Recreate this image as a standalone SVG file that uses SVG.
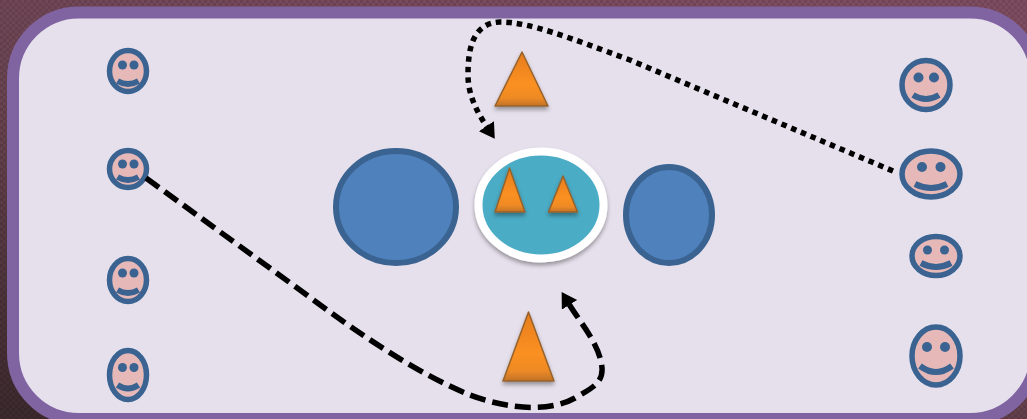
<svg xmlns="http://www.w3.org/2000/svg" width="1027" height="419" viewBox="0 0 1027 419">
<style>
.skin{fill:#e6b9b8;stroke:#3a6391;stroke-width:5.500}
.eye{fill:#3a6391}
.mouth{fill:none;stroke:#3a6391;stroke-width:6}
.blue{fill:#4f81bd;stroke:#3a6391;stroke-width:6}
.tri{fill:url(#orange);stroke:#96622c;stroke-width:1.500;stroke-linejoin:round;filter:url(#shadow)}
.conn{fill:none;stroke:#000;stroke-width:5.500}
</style>
<defs>
<linearGradient id="bg" x1="0.7" y1="0" x2="0.05" y2="1"><stop offset="0" stop-color="#7e4c60"/><stop offset="0.5" stop-color="#684350"/><stop offset="1" stop-color="#3d2a2e"/></linearGradient>
<pattern id="tex" width="6" height="6" patternUnits="userSpaceOnUse"><rect width="3" height="3" fill="#000" opacity="0.1"/><rect x="3" y="3" width="3" height="3" fill="#000" opacity="0.1"/></pattern>
<linearGradient id="orange" x1="0" y1="0" x2="0" y2="1"><stop offset="0" stop-color="#e67d1f"/><stop offset="0.6" stop-color="#fb9020"/><stop offset="0.85" stop-color="#ee8a25"/><stop offset="1" stop-color="#c07228"/></linearGradient>
<filter id="shadow" x="-30%" y="-20%" width="160%" height="150%"><feDropShadow dx="0" dy="3" stdDeviation="2" flood-color="#000" flood-opacity="0.35"/></filter>
<marker id="arrow" markerUnits="userSpaceOnUse" markerWidth="20" markerHeight="20" refX="1" refY="9" orient="auto"><path d="M0,0L15,9L0,18z" fill="#000"/></marker>
</defs>
<rect width="1027" height="419" fill="url(#bg)"/>
<rect width="1027" height="419" fill="url(#tex)"/>
<rect id="panel" x="13" y="12.500" width="1023" height="406.500" rx="66" ry="66" fill="#e6e0ec" stroke="#8064a2" stroke-width="12"/>
<g id="face-l1"><ellipse class="skin" cx="128" cy="71" rx="18.500" ry="20.500"/><circle class="eye" cx="122.500" cy="65" r="4.500"/><circle class="eye" cx="134" cy="65" r="4.500"/><path class="mouth" d="M117.500,81Q128,87 138.500,81"/></g>
<g id="face-l2"><ellipse class="skin" cx="128" cy="169" rx="18.500" ry="18.500"/><circle class="eye" cx="122.500" cy="164" r="4.500"/><circle class="eye" cx="134" cy="164" r="4.500"/><path class="mouth" d="M117.500,177Q128,183 138.500,177"/></g>
<g id="face-l3"><ellipse class="skin" cx="128" cy="280" rx="18.500" ry="21.500"/><circle class="eye" cx="122.500" cy="273" r="4.500"/><circle class="eye" cx="134" cy="273" r="4.500"/><path class="mouth" d="M117.500,290Q128,296 138.500,290"/></g>
<g id="face-l4"><ellipse class="skin" cx="128" cy="375" rx="18.500" ry="24.500"/><circle class="eye" cx="122.500" cy="367.500" r="4.500"/><circle class="eye" cx="134" cy="367.500" r="4.500"/><path class="mouth" d="M117.500,385Q128,392 138.500,385"/></g>
<g id="face-r1"><ellipse class="skin" cx="926" cy="85" rx="24" ry="24.500"/><circle class="eye" cx="918.500" cy="77.500" r="5"/><circle class="eye" cx="934" cy="77.500" r="5"/><path class="mouth" d="M913,95Q926,103 939,95"/></g>
<g id="face-r2"><ellipse class="skin" cx="931" cy="174" rx="29" ry="23"/><circle class="eye" cx="922" cy="167" r="5"/><circle class="eye" cx="940.500" cy="167" r="5"/><path class="mouth" d="M915,184Q931,192 947,184"/></g>
<g id="face-r3"><ellipse class="skin" cx="936" cy="256" rx="24" ry="19.500"/><circle class="eye" cx="927.500" cy="250" r="4.500"/><circle class="eye" cx="944.500" cy="250" r="4.500"/><path class="mouth" d="M921,263Q936,271 951,263"/></g>
<g id="face-r4"><ellipse class="skin" cx="936" cy="356" rx="24" ry="29"/><circle class="eye" cx="927" cy="347" r="5"/><circle class="eye" cx="945" cy="347" r="5"/><path class="mouth" d="M920,366Q936,378 952,366"/></g>
<g id="circle-left"><ellipse class="blue" cx="396" cy="207" rx="60" ry="56"/></g>
<g id="circle-right"><ellipse class="blue" cx="669" cy="215" rx="43" ry="48"/></g>
<g id="circle-center"><ellipse cx="541" cy="205" rx="62.500" ry="53.500" fill="#4bacc6" stroke="#fff" stroke-width="8" filter="url(#shadow)"/></g>
<g id="triangle-top"><polygon class="tri" points="522,52 495,106 548,106"/></g>
<g id="triangle-inner-left"><polygon class="tri" points="509.500,168 495,212 525,212"/></g>
<g id="triangle-inner-right"><polygon class="tri" points="563,176 548.500,212 577.500,212"/></g>
<g id="triangle-bottom"><polygon class="tri" points="528.500,312 503,381 554,381"/></g>
<g id="connectors">
<path class="conn" stroke-dasharray="5.500 5" marker-end="url(#arrow)" d="M893,171L630,60C570,38 530,22 500,22C472,23 468,50 468,75C468,95 477,112 487,127"/>
<path class="conn" stroke-dasharray="16 7" marker-end="url(#arrow)" d="M146,178L300,290C360,335 420,375 470,395C510,410 550,412 575,398C592,388 603,383 602,368C600,345 582,325 569,304"/>
</g>
</svg>
